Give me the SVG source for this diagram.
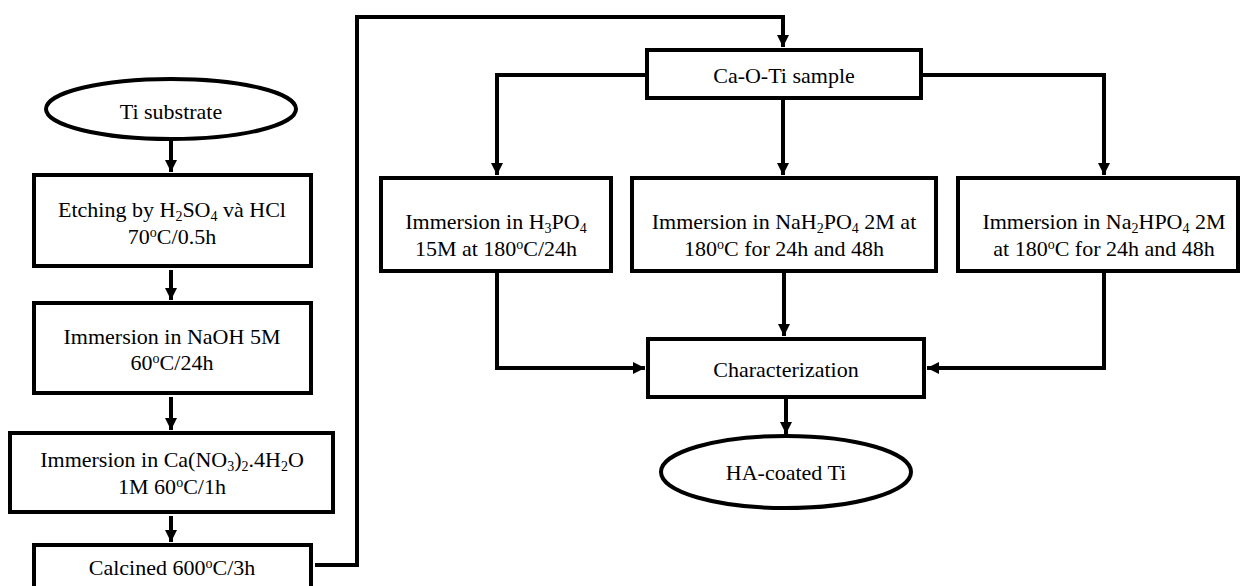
<svg xmlns="http://www.w3.org/2000/svg" width="1242" height="586" viewBox="0 0 1242 586">
<style>
.box{fill:#fff;stroke:#000;stroke-width:4}
.t{font-family:"Liberation Serif","Times New Roman",serif;font-size:22px;fill:#000;text-anchor:middle}
.s{font-size:14px}
.c{fill:none;stroke:#000;stroke-width:4}
</style>
<defs>
<marker id="ah" markerUnits="userSpaceOnUse" markerWidth="14" markerHeight="14" refX="12" refY="6" orient="auto">
<path d="M0,0 L12,6 L0,12 z" fill="#000"/>
</marker>
</defs>
<rect width="1242" height="586" fill="#fff"/>
<g id="connectors">
<path class="c" d="M171,139 V172" marker-end="url(#ah)"/>
<path class="c" d="M171,270 V300" marker-end="url(#ah)"/>
<path class="c" d="M171,397 V430" marker-end="url(#ah)"/>
<path class="c" d="M171,516 V542" marker-end="url(#ah)"/>
<path class="c" d="M315,565 H357 V17 H783 V47" marker-end="url(#ah)"/>
<path class="c" d="M645,75 H497 V175" marker-end="url(#ah)"/>
<path class="c" d="M783,100 V175" marker-end="url(#ah)"/>
<path class="c" d="M923,75 H1104 V175" marker-end="url(#ah)"/>
<path class="c" d="M497,273 V368 H645" marker-end="url(#ah)"/>
<path class="c" d="M784,273 V336" marker-end="url(#ah)"/>
<path class="c" d="M1104,273 V368 H927" marker-end="url(#ah)"/>
<path class="c" d="M786,399 V434" marker-end="url(#ah)"/>
</g>
<g id="ti-substrate">
<ellipse class="box" cx="171" cy="109" rx="125" ry="30"/>
<text class="t" x="171" y="119">Ti substrate</text>
</g>
<g id="etching">
<rect class="box" x="34" y="175" width="277" height="91"/>
<text class="t" x="172" y="217">Etching by H<tspan class="s" dy="4">2</tspan><tspan dy="-4">SO</tspan><tspan class="s" dy="4">4</tspan><tspan dy="-4"> và HCl</tspan></text>
<text class="t" x="172" y="244">70<tspan class="s" dy="-7">o</tspan><tspan dy="7">C/0.5h</tspan></text>
</g>
<g id="naoh">
<rect class="box" x="34" y="303" width="277" height="90"/>
<text class="t" x="172" y="344">Immersion in NaOH 5M</text>
<text class="t" x="172" y="370">60<tspan class="s" dy="-7">o</tspan><tspan dy="7">C/24h</tspan></text>
</g>
<g id="canitrate">
<rect class="box" x="10" y="433" width="323" height="79"/>
<text class="t" x="172" y="467">Immersion in Ca(NO<tspan class="s" dy="4">3</tspan><tspan dy="-4">)</tspan><tspan class="s" dy="4">2</tspan><tspan dy="-4">.4H</tspan><tspan class="s" dy="4">2</tspan><tspan dy="-4">O</tspan></text>
<text class="t" x="172" y="494">1M 60<tspan class="s" dy="-7">o</tspan><tspan dy="7">C/1h</tspan></text>
</g>
<g id="calcined">
<rect class="box" x="34" y="545" width="277" height="60"/>
<text class="t" x="172" y="575">Calcined 600<tspan class="s" dy="-7">o</tspan><tspan dy="7">C/3h</tspan></text>
</g>
<g id="caoti">
<rect class="box" x="647" y="50" width="274" height="48"/>
<text class="t" x="784" y="83">Ca-O-Ti sample</text>
</g>
<g id="h3po4">
<rect class="box" x="381" y="178" width="230" height="93"/>
<text class="t" x="496" y="229">Immersion in H<tspan class="s" dy="4">3</tspan><tspan dy="-4">PO</tspan><tspan class="s" dy="4">4</tspan></text>
<text class="t" x="496" y="256">15M at 180<tspan class="s" dy="-7">o</tspan><tspan dy="7">C/24h</tspan></text>
</g>
<g id="nah2po4">
<rect class="box" x="632" y="178" width="304" height="93"/>
<text class="t" x="784" y="229">Immersion in NaH<tspan class="s" dy="4">2</tspan><tspan dy="-4">PO</tspan><tspan class="s" dy="4">4</tspan><tspan dy="-4"> 2M at</tspan></text>
<text class="t" x="784" y="256">180<tspan class="s" dy="-7">o</tspan><tspan dy="7">C for 24h and 48h</tspan></text>
</g>
<g id="na2hpo4">
<rect class="box" x="958" y="178" width="280" height="93"/>
<text class="t" x="1104" y="229">Immersion in Na<tspan class="s" dy="4">2</tspan><tspan dy="-4">HPO</tspan><tspan class="s" dy="4">4</tspan><tspan dy="-4"> 2M</tspan></text>
<text class="t" x="1104" y="256">at 180<tspan class="s" dy="-7">o</tspan><tspan dy="7">C for 24h and 48h</tspan></text>
</g>
<g id="characterization">
<rect class="box" x="648" y="339" width="276" height="58"/>
<text class="t" x="786" y="377">Characterization</text>
</g>
<g id="ha-coated">
<ellipse class="box" cx="786" cy="472" rx="125" ry="36"/>
<text class="t" x="786" y="480">HA-coated Ti</text>
</g>
</svg>
